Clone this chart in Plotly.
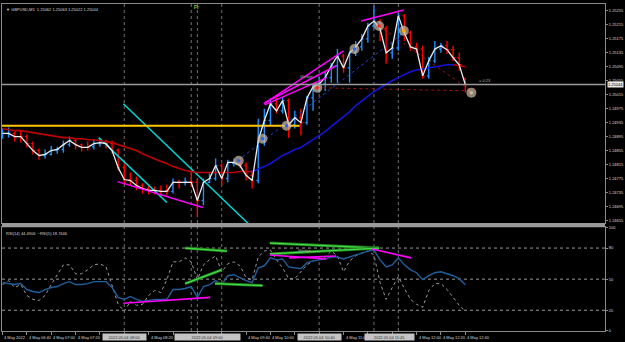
import plotly.graph_objects as go

# ---------------- data ----------------
bar_idx = list(range(77))  # M5 bars from 06:20 to 12:40, 4 May 2022

close_ = [1.24904, 1.24904, 1.24895, 1.24895, 1.24875, 1.24855, 1.24841, 1.24844, 1.24855, 1.24858,
          1.24872, 1.24884, 1.24872, 1.24864, 1.24864, 1.24875, 1.24878, 1.24875, 1.24855, 1.24806,
          1.24772, 1.24769, 1.24755, 1.24746, 1.24741, 1.24741, 1.24738, 1.24738, 1.24764, 1.24764,
          1.24766, 1.24764, 1.24712, 1.24764, 1.24775, 1.24812, 1.24775, 1.24821, 1.24821, 1.24812,
          1.24784, 1.24769, 1.24884, 1.24941, 1.24989, 1.24969, 1.24998, 1.24929, 1.24949, 1.24935,
          1.25006, 1.25038, 1.25046, 1.25064, 1.25098, 1.25126, 1.25092, 1.25135, 1.25152, 1.25175,
          1.25212, 1.25226, 1.25204, 1.25135, 1.25149, 1.25241, 1.25192, 1.25152, 1.25146, 1.25069,
          1.25112, 1.25146, 1.25155, 1.25144, 1.25121, 1.25101, 1.25044]
open_ = [1.24895, 1.24904, 1.24904, 1.24895, 1.24895, 1.24875, 1.24855, 1.24841, 1.24844, 1.24855,
         1.24858, 1.24872, 1.24884, 1.24872, 1.24864, 1.24866, 1.24875, 1.24878, 1.24875, 1.24855,
         1.24806, 1.24772, 1.24769, 1.24755, 1.24746, 1.24743, 1.24741, 1.24740, 1.24738, 1.24766,
         1.24764, 1.24766, 1.24764, 1.24712, 1.24764, 1.24775, 1.24812, 1.24775, 1.24818, 1.24821,
         1.24812, 1.24784, 1.24769, 1.24884, 1.24941, 1.24989, 1.24969, 1.24998, 1.24929, 1.24949,
         1.24935, 1.25006, 1.25038, 1.25046, 1.25064, 1.25098, 1.25126, 1.25092, 1.25135, 1.25152,
         1.25175, 1.25212, 1.25226, 1.25204, 1.25135, 1.25149, 1.25241, 1.25192, 1.25152, 1.25146,
         1.25069, 1.25112, 1.25146, 1.25155, 1.25144, 1.25121, 1.25062]
high_ = [1.24918, 1.24921, 1.24909, 1.24912, 1.24901, 1.24881, 1.24861, 1.24858, 1.24869, 1.24866,
         1.24884, 1.24895, 1.24889, 1.24875, 1.24881, 1.24886, 1.24889, 1.24886, 1.24884, 1.24861,
         1.24818, 1.24792, 1.24781, 1.24761, 1.24755, 1.24752, 1.24755, 1.24758, 1.24775, 1.24772,
         1.24778, 1.24798, 1.24775, 1.24775, 1.24789, 1.24832, 1.24818, 1.24829, 1.24832, 1.24832,
         1.24821, 1.24798, 1.24946, 1.24975, 1.25004, 1.25006, 1.25009, 1.25004, 1.24969, 1.24975,
         1.25012, 1.25044, 1.25066, 1.25084, 1.25106, 1.25146, 1.25132, 1.25141, 1.25169, 1.25189,
         1.25221, 1.25270, 1.25232, 1.25212, 1.25164, 1.25249, 1.25246, 1.25198, 1.25164, 1.25155,
         1.25124, 1.25169, 1.25164, 1.25169, 1.25155, 1.25135, 1.25063]
low_ = [1.24889, 1.24892, 1.24881, 1.24878, 1.24864, 1.24844, 1.24829, 1.24832, 1.24841, 1.24846,
        1.24849, 1.24866, 1.24858, 1.24852, 1.24855, 1.24858, 1.24866, 1.24861, 1.24846, 1.24798,
        1.24758, 1.24755, 1.24741, 1.24732, 1.24729, 1.24729, 1.24724, 1.24726, 1.24732, 1.24746,
        1.24755, 1.24752, 1.24664, 1.24698, 1.24761, 1.24769, 1.24755, 1.24764, 1.24809, 1.24804,
        1.24769, 1.24746, 1.24761, 1.24869, 1.24926, 1.24961, 1.24961, 1.24892, 1.24918, 1.24898,
        1.24929, 1.24969, 1.25021, 1.25026, 1.25049, 1.25049, 1.25078, 1.25049, 1.25126, 1.25141,
        1.25164, 1.25204, 1.25169, 1.25104, 1.25118, 1.25141, 1.25169, 1.25141, 1.25135, 1.25061,
        1.25061, 1.25106, 1.25135, 1.25132, 1.25112, 1.25084, 1.25022]

ma_ = [1.24918, 1.24915, 1.24912, 1.24912, 1.24909, 1.24906, 1.24904, 1.24901, 1.24898, 1.24895,
       1.24892, 1.24892, 1.24889, 1.24889, 1.24886, 1.24886, 1.24884, 1.24881, 1.24878, 1.24872,
       1.24866, 1.24861, 1.24855, 1.24846, 1.24838, 1.24832, 1.24824, 1.24818, 1.24809, 1.24804,
       1.24798, 1.24795, 1.24792, 1.24792, 1.24792, 1.24792, 1.24792, 1.24792, 1.24792, 1.24795,
       1.24795, 1.24795, 1.24801, 1.24809, 1.24818, 1.24829, 1.24841, 1.24849, 1.24858, 1.24864,
       1.24875, 1.24886, 1.24898, 1.24909, 1.24924, 1.24938, 1.24952, 1.24966, 1.24984, 1.24998,
       1.25012, 1.25024, 1.25035, 1.25046, 1.25055, 1.25064, 1.25072, 1.25081, 1.25086, 1.25089,
       1.25092, 1.25095, 1.25098, 1.25101, 1.25101, 1.25098, 1.25095]
ma_blue_from, ma_blue_to = 41, 74   # rising part drawn in blue

rsi14 = [46.7, 45.7, 44.8, 45.7, 40.0, 38.1, 37.1, 40.0, 41.9, 42.9,
         45.7, 47.6, 44.8, 44.8, 45.7, 47.6, 47.6, 47.6, 41.9, 32.4,
         30.5, 33.3, 30.5, 28.6, 29.5, 30.5, 30.5, 30.5, 40.0, 40.0,
         41.0, 42.9, 32.4, 42.9, 44.8, 48.6, 44.8, 53.3, 54.3, 51.4,
         48.6, 46.7, 61.0, 62.9, 70.5, 68.6, 69.5, 61.9, 61.0, 60.0,
         65.7, 67.6, 68.6, 69.5, 71.4, 71.4, 69.5, 71.4, 73.3, 75.2,
         77.1, 78.1, 68.6, 61.9, 63.8, 70.5, 63.8, 59.0, 56.2, 49.5,
         53.3, 56.2, 57.1, 55.2, 53.3, 50.5, 44.5]
rsi5 = [44.8, 48.6, 41.9, 44.8, 34.3, 30.5, 29.5, 34.3, 44.8, 54.3,
        63.8, 63.8, 55.2, 55.2, 59.0, 63.8, 64.8, 61.9, 44.8, 25.7,
        19.0, 28.6, 24.8, 25.7, 34.3, 39.0, 37.1, 49.5, 66.7, 66.7,
        70.5, 66.7, 49.5, 63.8, 68.6, 72.4, 57.1, 64.8, 66.7, 62.9,
        51.4, 49.5, 71.4, 77.1, 78.1, 68.6, 61.0, 50.5, 50.5, 57.1,
        63.8, 67.6, 69.5, 71.4, 77.1, 72.4, 57.1, 67.6, 72.4, 75.2,
        77.1, 73.3, 46.7, 30.5, 41.9, 52.4, 41.0, 30.5, 25.7, 22.9,
        39.0, 45.7, 45.7, 40.0, 32.4, 24.8, 18.7]

price_ticks = [1.25255, 1.25215, 1.25175, 1.25135, 1.25095, 1.25055, 1.25015, 1.24975,
               1.24935, 1.24895, 1.24855, 1.24815, 1.24775, 1.24735, 1.24695, 1.24655]
rsi_ticks = [0, 20, 50, 80, 100]
rsi_levels = [20, 50, 80]
time_tick_idx = [0, 4, 8, 12, 16, 20, 24, 28, 32, 36, 40, 44, 48, 52, 56, 60, 64, 68, 72, 76]
# labels visible on the time scale (others are hidden under the line labels)
time_lbl_idx = [0, 4, 8, 12, 24, 40, 44, 56, 68, 72, 76]
time_lbl_txt = ["4 May 2022", "4 May 06:40", "4 May 07:00", "4 May 07:20", "4 May 08:20",
                "4 May 09:40", "4 May 10:00", "4 May 11:00", "4 May 12:00", "4 May 12:20",
                "4 May 12:40"]
vline_idx = [20, 31, 32, 36, 52, 61, 65]
# highlighted time labels of the vertical lines: (centre index, box width px, text)
vlabel_pos = [20, 33.7, 52, 63.6]
vlabel_w = [42, 64, 42, 48]
vlabel_txt = ["2022.05.04 08:00", "2022.05.04 09:00", "2022.05.04 10:40", "2022.05.04 11:45"]

bid_price = 1.25044
yellow_line = [(-0.5, 1.24926), (48.8, 1.24926)]
cyan_lines = [[(19.85, 1.24989), (40.3, 1.246465)], [(15.8, 1.24892), (27.0, 1.24706)]]
magenta_lines = [[(18.9, 1.24766), (32.9, 1.24692)],
                 [(42.9, 1.24989), (56.0, 1.25141)],
                 [(43.05, 1.24992), (54.8, 1.25098)],
                 [(43.05, 1.24986), (53.2, 1.25064)],
                 [(58.9, 1.25226), (65.9, 1.25258)]]
blue_dot_line = [(38.6, 1.24826), (66.75, 1.25204)]
red_dot_lines = [[(51.7, 1.25035), (77.0, 1.25026)], [(61.8, 1.25212), (77.0, 1.25026)]]
circle_x = [38.8, 42.7, 46.65, 51.7, 57.8, 61.85, 65.9, 77.0]
circle_y = [1.24826, 1.24889, 1.24926, 1.25035, 1.25146, 1.25212, 1.25198, 1.25021]
circle_dot = ['#3060ff', '#3060ff', '#3060ff', '#ff2020', '#3060ff', '#ff2020', '#ffa500', '#c8b8a0']

rsi_magenta = [[(19.85, 26.7), (34.1, 32.4)], [(43.9, 73.3), (53.2, 69.5)],
               [(47.1, 70.5), (54.8, 72.4)], [(60.7, 79.0), (67.1, 70.5)]]
rsi_green = [[(30.0, 80.0), (36.85, 77.1)], [(30.0, 45.7), (36.0, 59.0)],
             [(34.9, 45.7), (42.7, 43.8)], [(43.9, 84.8), (61.85, 80.0)],
             [(43.9, 74.3), (61.85, 80.0)]]

XR = [-0.08, 98.94]
FONT = "Liberation Sans"
GRAY = '#8a8a8a'
TXT = '#d8d8d8'
FS = 4

fig = go.Figure()

# trend objects under price
for (a, b) in cyan_lines:
    fig.add_trace(go.Scatter(x=[a[0], b[0]], y=[a[1], b[1]], mode='lines',
                             line=dict(color='#00d8d8', width=1.5), hoverinfo='skip'))
fig.add_trace(go.Scatter(x=[p[0] for p in yellow_line], y=[p[1] for p in yellow_line], mode='lines',
                         line=dict(color='#ffc800', width=2), hoverinfo='skip'))
fig.add_trace(go.Scatter(x=[p[0] for p in blue_dot_line], y=[p[1] for p in blue_dot_line], mode='lines',
                         line=dict(color='#2040d0', width=1, dash='dot'), hoverinfo='skip'))
for (a, b) in red_dot_lines:
    fig.add_trace(go.Scatter(x=[a[0], b[0]], y=[a[1], b[1]], mode='lines',
                             line=dict(color='#a01010', width=1, dash='dot'), hoverinfo='skip'))

# moving average (colour by slope)
fig.add_trace(go.Scatter(x=bar_idx[:ma_blue_from + 1], y=ma_[:ma_blue_from + 1], mode='lines',
                         line=dict(color='#c00000', width=1.6), hoverinfo='skip'))
fig.add_trace(go.Scatter(x=bar_idx[ma_blue_from:ma_blue_to + 1], y=ma_[ma_blue_from:ma_blue_to + 1],
                         mode='lines', line=dict(color='#1414d8', width=1.6), hoverinfo='skip'))
fig.add_trace(go.Scatter(x=bar_idx[ma_blue_to:], y=ma_[ma_blue_to:], mode='lines',
                         line=dict(color='#c00000', width=1.6), hoverinfo='skip'))

# bars
fig.add_trace(go.Ohlc(x=bar_idx, open=open_, high=high_, low=low_, close=close_,
                      increasing=dict(line=dict(color='#1e8fff', width=1.4)),
                      decreasing=dict(line=dict(color='#ff0000', width=1.4)),
                      tickwidth=0.3, hoverinfo='skip'))
# close line
fig.add_trace(go.Scatter(x=bar_idx, y=close_, mode='lines',
                         line=dict(color='#ececec', width=1.3), hoverinfo='skip'))

for (a, b) in magenta_lines:
    fig.add_trace(go.Scatter(x=[a[0], b[0]], y=[a[1], b[1]], mode='lines',
                             line=dict(color='#ff00ff', width=1.5), hoverinfo='skip'))

fig.add_trace(go.Scatter(x=circle_x, y=circle_y, mode='markers',
                         marker=dict(size=10, color='rgba(205,190,165,0.7)'), hoverinfo='skip'))
fig.add_trace(go.Scatter(x=circle_x, y=circle_y, mode='markers',
                         marker=dict(size=3.5, color=circle_dot), hoverinfo='skip'))

# ---------------- RSI panel ----------------
fig.add_trace(go.Scatter(x=bar_idx, y=rsi5, mode='lines', xaxis='x2', yaxis='y2',
                         line=dict(color='#9a9a9a', width=1, dash='dot'), hoverinfo='skip'))
fig.add_trace(go.Scatter(x=bar_idx, y=rsi14, mode='lines', xaxis='x2', yaxis='y2',
                         line=dict(color='#1f5f9c', width=1.4), hoverinfo='skip'))
for (a, b) in rsi_green:
    fig.add_trace(go.Scatter(x=[a[0], b[0]], y=[a[1], b[1]], mode='lines', xaxis='x2', yaxis='y2',
                             line=dict(color='#1f7a1f', width=3), hoverinfo='skip'))
    fig.add_trace(go.Scatter(x=[a[0], b[0]], y=[a[1], b[1]], mode='lines', xaxis='x2', yaxis='y2',
                             line=dict(color='#44e044', width=1.2), hoverinfo='skip'))
for (a, b) in rsi_magenta:
    fig.add_trace(go.Scatter(x=[a[0], b[0]], y=[a[1], b[1]], mode='lines', xaxis='x2', yaxis='y2',
                             line=dict(color='#ff00ff', width=1.6), hoverinfo='skip'))

MAIN_DOM = [0.3293, 1.0]
RSI_DOM = [0.0, 0.3171]

shapes = []
for v in vline_idx:
    shapes.append(dict(type='line', xref='x', yref='paper', x0=v, x1=v, y0=0, y1=1,
                       line=dict(color='#707070', width=1, dash='dot'), layer='below'))
for lv in rsi_levels:
    shapes.append(dict(type='line', xref='paper', yref='y2', x0=0, x1=1, y0=lv, y1=lv,
                       line=dict(color='#9a9a9a', width=1, dash='dot'), layer='below'))
shapes.append(dict(type='line', xref='paper', yref='y', x0=0, x1=1, y0=bid_price, y1=bid_price,
                   line=dict(color='#9a9a9a', width=1.5)))
shapes.append(dict(type='rect', xref='paper', yref='paper', x0=0, x1=1, y0=RSI_DOM[1], y1=MAIN_DOM[0],
                   fillcolor='#9a9a9a', line=dict(width=0)))

ann = []
ann.append(dict(xref='paper', yref='paper', x=0.004, y=0.997, xanchor='left', yanchor='top',
                text='▼ GBPUSD,M5  1.25062 1.25063 1.25022 1.25044', showarrow=False,
                font=dict(size=FS, color=TXT, family=FONT)))
ann.append(dict(xref='x', yref='y', x=31.9, y=1.25266, xanchor='center', yanchor='middle',
                text='<b>Fr</b>', showarrow=False, font=dict(size=5, color='#9acd32', family=FONT)))
ann.append(dict(xref='x', yref='y', x=49.9, y=1.25066, xanchor='center', yanchor='middle',
                text='Wedge', showarrow=False, font=dict(size=FS, color='#a0a0a0', family=FONT)))
ann.append(dict(xref='x', yref='y', x=77.9, y=1.25057, xanchor='left', yanchor='middle',
                text='= 0:23', showarrow=False, font=dict(size=FS, color='#b0b0b0', family=FONT)))
ann.append(dict(xref='paper', yref='y', x=1, y=bid_price, xanchor='left', yanchor='middle', xshift=2,
                text='1.25044', showarrow=False, bgcolor='#e8e8e8', borderpad=0,
                font=dict(size=FS, color='#000000', family=FONT)))
ann.append(dict(xref='paper', yref='paper', x=0.004, y=RSI_DOM[1] - 0.004, xanchor='left', yanchor='top',
                text='RSI(14) 44.4906  ~RSI(5) 18.7446', showarrow=False,
                font=dict(size=FS, color=TXT, family=FONT)))
ann.append(dict(xref='x2', yref='y2', x=49.6, y=78.0, xanchor='center', yanchor='middle',
                text='Wedge', showarrow=False, font=dict(size=FS, color='#a0a0a0', family=FONT)))
for ti, tt in zip(time_lbl_idx, time_lbl_txt):
    ann.append(dict(xref='x2', yref='paper', x=ti, y=0, xanchor='left', yanchor='top', yshift=-2,
                    text=tt, showarrow=False, font=dict(size=FS, color=TXT, family=FONT)))
for vp, vw, vt in zip(vlabel_pos, vlabel_w, vlabel_txt):
    ann.append(dict(xref='x2', yref='paper', x=vp, y=0, xanchor='center', yanchor='top', yshift=-1.5,
                    text=vt, width=vw, align='center', showarrow=False, bgcolor='#c4c4c4', borderpad=0.5,
                    font=dict(size=FS, color='#303030', family=FONT)))

axis_common = dict(showgrid=False, zeroline=False, showline=True, linecolor=GRAY, linewidth=1,
                   mirror=True, fixedrange=True)

fig.update_layout(
    width=625, height=342,
    margin=dict(l=1, r=18, t=2, b=11),
    paper_bgcolor='black', plot_bgcolor='black',
    showlegend=False, hovermode=False,
    font=dict(family=FONT, color=TXT, size=FS),
    xaxis=dict(domain=[0, 1], range=XR, anchor='y', showticklabels=False,
               rangeslider=dict(visible=False), **axis_common),
    yaxis=dict(domain=MAIN_DOM, range=[1.246465, 1.25275], side='right', anchor='x',
               tickvals=price_ticks, ticktext=[f"{v:.5f}" for v in price_ticks],
               ticks='outside', ticklen=2, tickcolor=GRAY,
               tickfont=dict(size=FS, color=TXT, family=FONT), **axis_common),
    xaxis2=dict(domain=[0, 1], range=XR, anchor='y2', tickvals=time_tick_idx, showticklabels=False,
                ticks='outside', ticklen=3, tickcolor=GRAY, **axis_common),
    yaxis2=dict(domain=RSI_DOM, range=[0, 100], side='right', anchor='x2',
                tickvals=rsi_ticks, ticktext=[str(v) for v in rsi_ticks],
                ticks='outside', ticklen=2, tickcolor=GRAY,
                tickfont=dict(size=FS, color=TXT, family=FONT), **axis_common),
    shapes=shapes, annotations=ann,
)

fig.write_html("out.html", config={'displayModeBar': False, 'staticPlot': True})
